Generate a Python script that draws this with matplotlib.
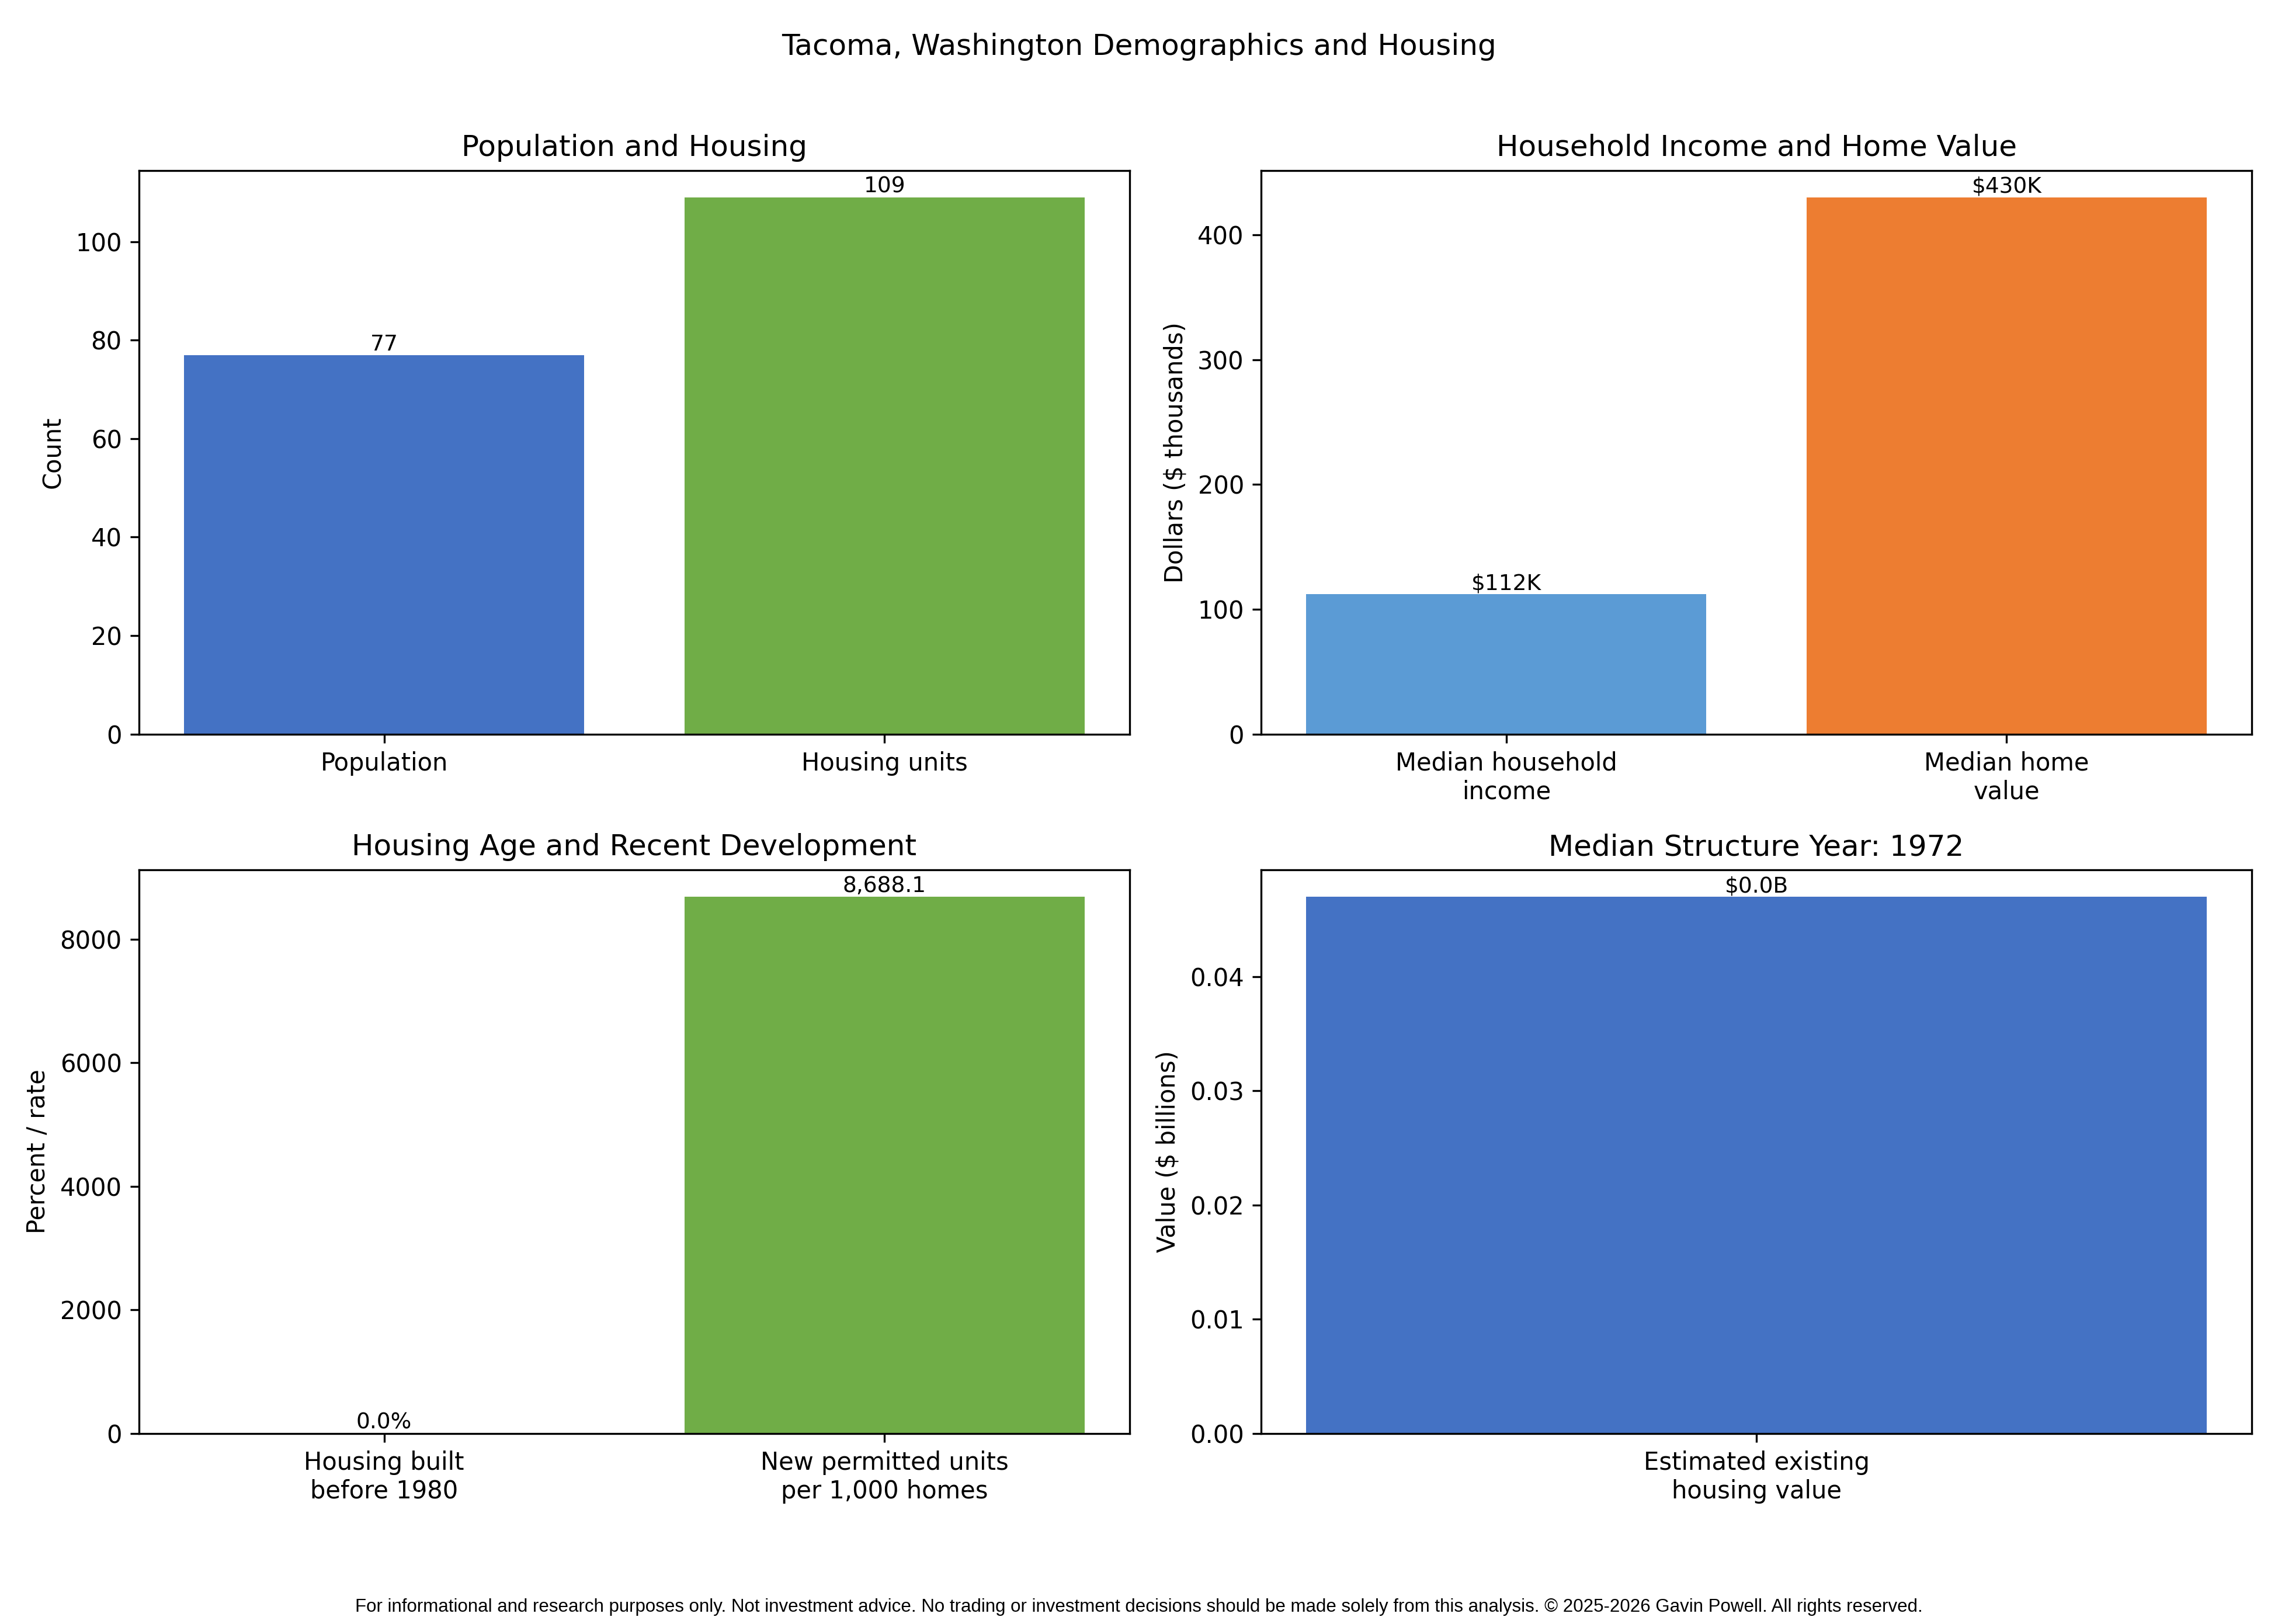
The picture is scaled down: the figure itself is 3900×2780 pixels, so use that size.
import matplotlib
matplotlib.use("Agg")
import matplotlib.pyplot as plt

# Data
pop_labels = ["Population", "Housing units"]
pop_values = [77, 109]
pop_text = ["77", "109"]

income_labels = ["Median household\nincome", "Median home\nvalue"]
income_values = [112, 430]
income_text = ["$112K", "$430K"]

age_labels = ["Housing built\nbefore 1980", "New permitted units\nper 1,000 homes"]
age_values = [0.0, 8688.1]
age_text = ["0.0%", "8,688.1"]

value_labels = ["Estimated existing\nhousing value"]
value_values = [0.047]
value_text = ["$0.0B"]
median_year = 1972

blue = "#4472C4"
green = "#70AD47"
light_blue = "#5B9BD5"
orange = "#ED7D31"

fig, axes = plt.subplots(2, 2, figsize=(13, 9.2667), dpi=300)
fig.subplots_adjust(left=0.061, right=0.9885, top=0.895, bottom=0.1173,
                    wspace=0.1327, hspace=0.241)
fig.suptitle("Tacoma, Washington Demographics and Housing", fontsize=12, y=0.980)

def draw(ax, labels, values, texts, colors, title, ylabel):
    bars = ax.bar(labels, values, color=colors)
    ax.bar_label(bars, labels=texts, fontsize=9)
    ax.set_title(title, fontsize=12)
    ax.set_ylabel(ylabel, fontsize=10)

draw(axes[0, 0], pop_labels, pop_values, pop_text, [blue, green],
     "Population and Housing", "Count")
draw(axes[0, 1], income_labels, income_values, income_text, [light_blue, orange],
     "Household Income and Home Value", "Dollars ($ thousands)")
draw(axes[1, 0], age_labels, age_values, age_text, [blue, green],
     "Housing Age and Recent Development", "Percent / rate")
draw(axes[1, 1], value_labels, value_values, value_text, [blue],
     "Median Structure Year: {}".format(median_year), "Value ($ billions)")

fig.text(0.5, 0.005,
         "For informational and research purposes only. Not investment advice. "
         "No trading or investment decisions should be made solely from this analysis. "
         "\u00a9 2025-2026 Gavin Powell. All rights reserved.",
         ha="center", va="bottom", fontsize=7.5, family=["Liberation Sans", "DejaVu Sans"])

fig.savefig("out.png", dpi=300)
